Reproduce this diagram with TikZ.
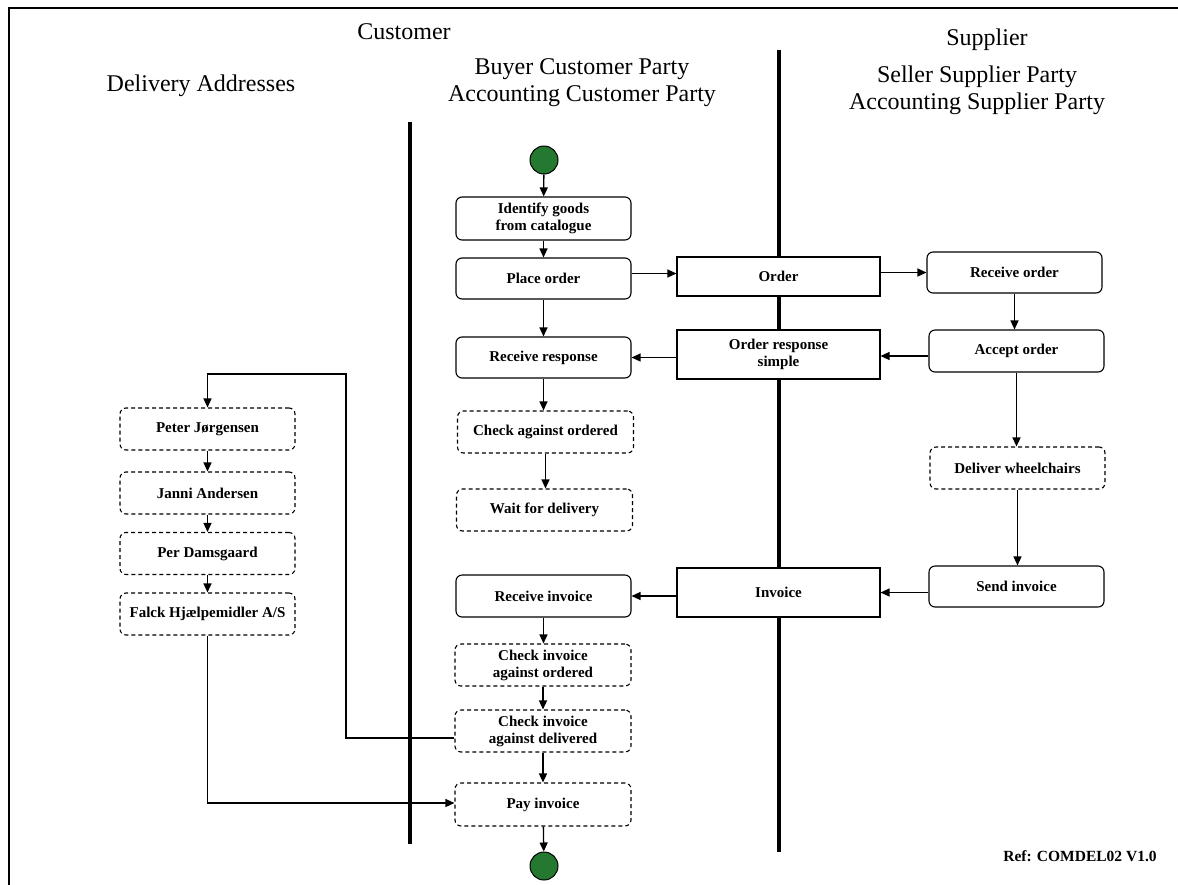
\documentclass[tikz,border=0pt]{standalone}
\usepackage{fontspec}
\setmainfont{Liberation Serif}
\usetikzlibrary{arrows.meta}
\definecolor{startgreen}{RGB}{36,120,48}
\begin{document}
\begin{tikzpicture}[x=1pt,y=-1pt,
 box/.style={draw, fill=white, line width=1.1pt, rounded corners=6pt, align=center, font=\fontsize{15}{17}\selectfont\bfseries, inner sep=0pt},
 dbox/.style={box, dash pattern=on 4pt off 3pt},
 obj/.style={box, rounded corners=0pt},
 sz/.style 2 args={minimum width=#1pt, minimum height=#2pt},
 flow/.style={line width=1.3pt, -{Triangle[length=9pt,width=8pt]}},
 lane/.style={line width=3.5pt},
 title/.style={font=\fontsize{24}{27}\selectfont, align=center},
 dot/.style={circle, draw, fill=startgreen, line width=1pt, minimum size=28pt, inner sep=0pt}]

\useasboundingbox (0,0) rectangle (1178,884);
\draw[line width=2.5pt] (9,900) -- (9,8) -- (1200,8);

% titles
\node[title] (cust) at (404,32) {Customer};
\node[title] (supp) at (987,40) {Supplier};
\node[title] (deliv) at (201,86) {Delivery Addresses};
\node[title] (buyer) at (582,83) {Buyer Customer Party\\Accounting Customer Party};
\node[title] (seller) at (977,90) {Seller Supplier Party\\Accounting Supplier Party};

% lanes
\draw[lane] (410,122) -- (410,844);
\draw[lane] (779,50) -- (779,852);

% customer column
\node[dot] (start) at (544,160) {};
\node[box, sz={175}{43}] (ident) at (543.5,218.5) {Identify goods\\from catalogue};
\node[box, sz={175}{41}] (place) at (543.5,278.5) {Place order};
\node[box, sz={175}{41}] (recvresp) at (543.5,357.5) {Receive response};
\node[dbox, sz={176}{42}] (chkord) at (545.5,432) {Check against ordered};
\node[dbox, sz={176}{42}] (wait) at (544.5,510) {Wait for delivery};
\node[box, sz={175}{42}] (recvinv) at (543.5,596) {Receive invoice};
\node[dbox, sz={176}{42}] (chkinvord) at (543,665) {Check invoice\\against ordered};
\node[dbox, sz={176}{42}] (chkinvdel) at (543,731) {Check invoice\\against delivered};
\node[dbox, sz={176}{43}] (pay) at (543,804.5) {Pay invoice};
\node[dot] (end) at (544,866) {};

% documents
\node[obj, sz={203}{39}] (order) at (778.5,276.5) {Order};
\node[obj, sz={203}{49}] (ordresp) at (778.5,354.5) {Order response\\simple};
\node[obj, sz={203}{49}] (invoice) at (778.5,592.5) {Invoice};

% supplier column
\node[box, sz={175}{41}] (recvorder) at (1014.5,272.5) {Receive order};
\node[box, sz={175}{42}] (accept) at (1016.5,351) {Accept order};
\node[dbox, sz={175}{42}] (deliver) at (1017.5,468) {Deliver wheelchairs};
\node[box, sz={175}{41}] (sendinv) at (1016.5,586.5) {Send invoice};

% delivery addresses
\node[dbox, sz={175}{42}] (peter) at (207.5,429) {Peter Jørgensen};
\node[dbox, sz={175}{42}] (janni) at (207.5,493) {Janni Andersen};
\node[dbox, sz={175}{42}] (per) at (207.5,553.5) {Per Damsgaard};
\node[dbox, sz={175}{42}] (falck) at (207.5,614) {Falck Hjælpemidler A/S};

\node[font=\fontsize{15.5}{17}\selectfont\bfseries] (ref) at (1080,856) {Ref: COMDEL02 V1.0};

% connector anchors
\coordinate (po) at ([yshift=5pt]place.east);
\coordinate (aw) at ([yshift=-5pt]accept.west);
\coordinate (cw) at ([yshift=-7pt]chkinvdel.west);
\coordinate (pw) at ([yshift=1.5pt]pay.west);
\coordinate (loop) at (346,374);

% connectors
\draw[flow] (start) -- (ident);
\draw[flow] (ident) -- (place);
\draw[flow] (po) -- (po -| order.west);
\draw[flow] (order.east |- recvorder.west) -- (recvorder.west);
\draw[flow] (recvorder.south) -- (recvorder.south |- accept.north);
\draw[flow] (aw) -- (aw -| ordresp.east);
\draw[flow] (ordresp.west |- recvresp.east) -- (recvresp.east);
\draw[flow] (place) -- (recvresp);
\draw[flow] (recvresp) -- (recvresp |- chkord.north);
\draw[flow] (chkord) -- (chkord |- wait.north);
\draw[flow] (accept.south) -- (accept.south |- deliver.north);
\draw[flow] (deliver) -- (deliver |- sendinv.north);
\draw[flow] (sendinv.west |- invoice.east) -- (invoice.east);
\draw[flow] (invoice.west |- recvinv.east) -- (recvinv.east);
\draw[flow] (recvinv) -- (recvinv |- chkinvord.north);
\draw[flow] (chkinvord) -- (chkinvdel);
\draw[flow] (chkinvdel) -- (pay);
\draw[flow] (pay) -- (end);
\draw[flow] (cw) -| (loop) -| (peter.north);
\draw[flow] (peter) -- (janni);
\draw[flow] (janni) -- (per);
\draw[flow] (per) -- (falck);
\draw[flow] (falck.south) |- (pw);
\end{tikzpicture}
\end{document}
